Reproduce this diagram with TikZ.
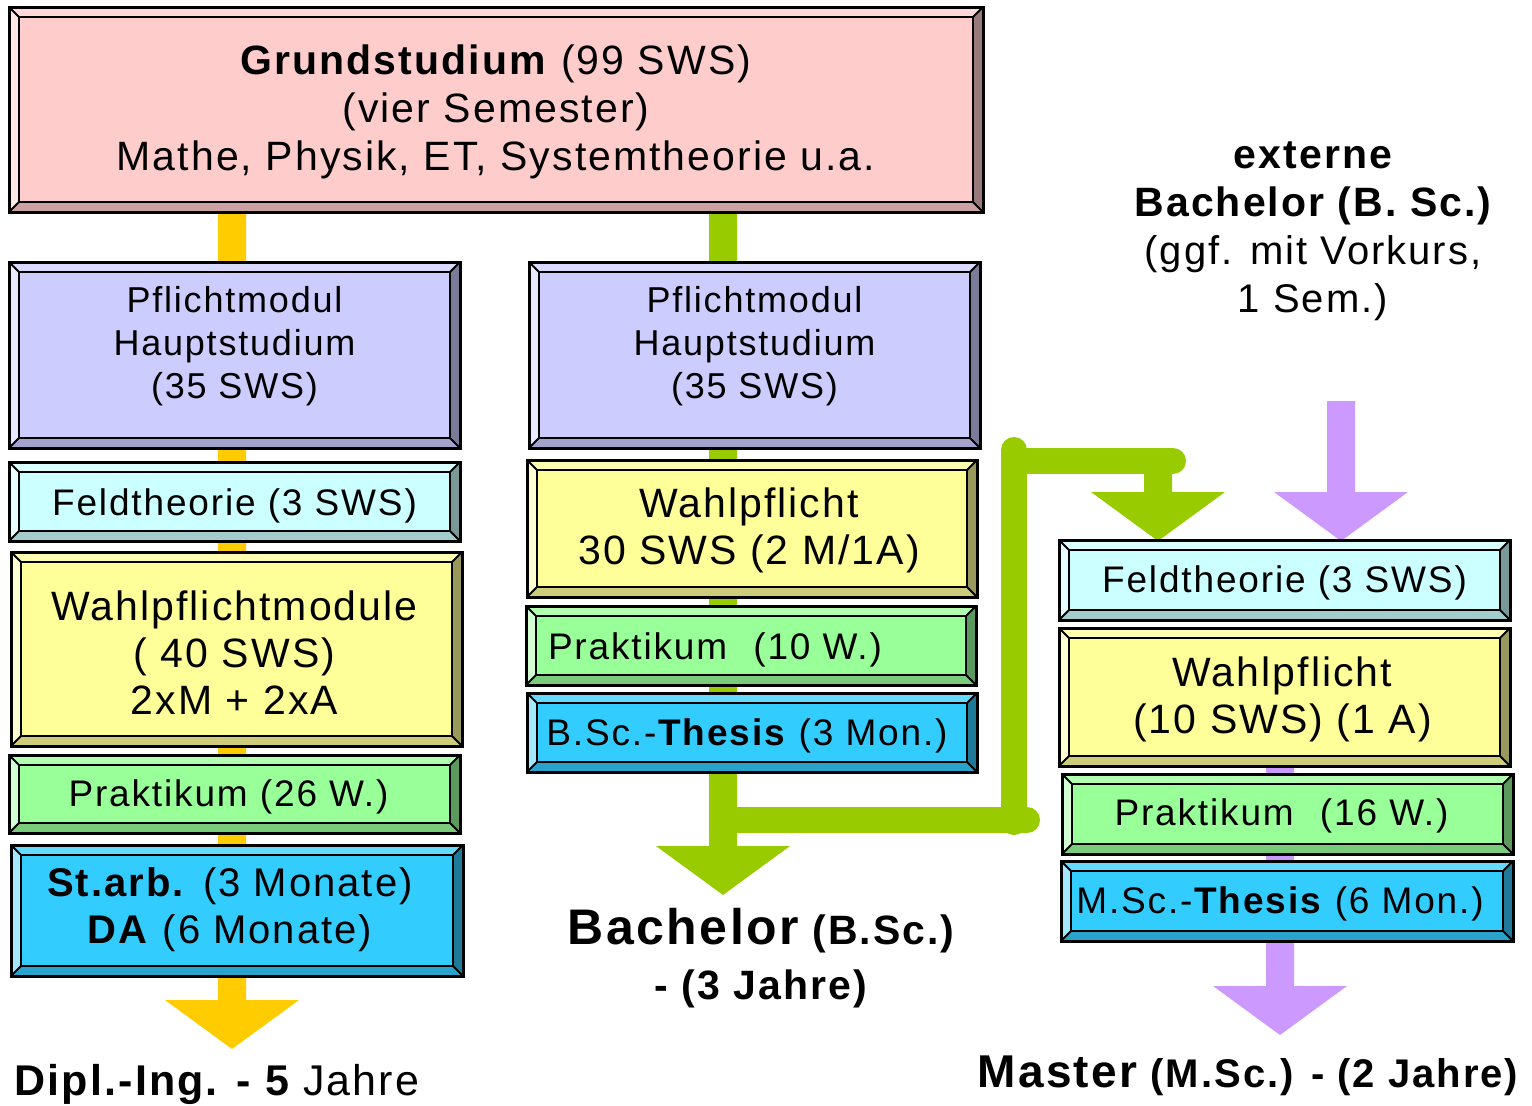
\documentclass[tikz,border=0pt]{standalone}
\usepackage{fontspec}
\setmainfont{Liberation Sans}[LetterSpace=5]
\usetikzlibrary{calc}
\pgfdeclarelayer{background}
\pgfsetlayers{background,main}
\definecolor{cpink}{HTML}{FFCCCC}
\definecolor{cviolet}{HTML}{CCCCFF}
\definecolor{ccyan}{HTML}{CCFFFF}
\definecolor{cyel}{HTML}{FFFF99}
\definecolor{cgreen}{HTML}{99FF99}
\definecolor{cblue}{HTML}{33CCFF}
\definecolor{ayel}{HTML}{FFCC00}
\definecolor{agreen}{HTML}{99CC00}
\definecolor{apurple}{HTML}{CC99FF}
% bevelled box: name, colour, centre x, centre y, width, height
\newcommand\bbox[6]{%
  \node[box=#2, minimum width=#5pt, minimum height=#6pt] (#1) at (#3,#4) {};
  \fill[#2!75!white] (#1.north west) -- (#1.north east) -- ($(#1.north east)+(-10,10)$) -- ($(#1.north west)+(10,10)$) -- cycle;
  \fill[#2!45!white] (#1.north west) -- ($(#1.north west)+(10,10)$) -- ($(#1.south west)+(10,-10)$) -- (#1.south west) -- cycle;
  \fill[#2!80!black] (#1.south west) -- ($(#1.south west)+(10,-10)$) -- ($(#1.south east)+(-10,-10)$) -- (#1.south east) -- cycle;
  \fill[#2!60!black] (#1.north east) -- (#1.south east) -- ($(#1.south east)+(-10,-10)$) -- ($(#1.north east)+(-10,10)$) -- cycle;
  \draw[line width=2pt] (#1.north west) -- ++(10,10) (#1.north east) -- ++(-10,10) (#1.south west) -- ++(10,-10) (#1.south east) -- ++(-10,-10);
  \draw[line width=2.5pt] ($(#1.north west)+(10,10)$) rectangle ($(#1.south east)+(-10,-10)$);
  \draw[line width=3pt] (#1.north west) rectangle (#1.south east);
}
\newcommand\fatdown[3]{%
  \fill[#1] let \p1=(#2), \p2=(#3) in
    (\x2-14pt,\y1) -- (\x2+14pt,\y1) -- (\x2+14pt,\y2+49pt) -- (\x2+67pt,\y2+49pt)
    -- (\x2,\y2) -- (\x2-67pt,\y2+49pt) -- (\x2-14pt,\y2+49pt) -- cycle;}
\begin{document}
\begin{tikzpicture}[x=1pt,y=-1pt,
  box/.style={fill=#1, inner sep=0pt, outer sep=0pt},
  txt/.style={inner sep=0pt, outer sep=0pt, align=center},
  f37/.style={font=\fontsize{37}{47}\selectfont},
  f41/.style={font=\fontsize{41}{47}\selectfont},
  f36/.style={font=\fontsize{36}{43}\selectfont},
  branch/.style={draw=agreen, line width=26pt, line cap=round}]
\useasboundingbox (0,0) rectangle (1532,1106);
\begin{pgfonlayer}{background}
\fill[white] (0,0) rectangle (1532,1106);
\end{pgfonlayer}

% top box
\bbox{grund}{cpink}{496}{109.5}{974}{205}
\node[txt, font=\fontsize{41}{48}\selectfont] (grundt) at ($(grund.center)+(0,2)$)
  {\textbf{Grundstudium} (99 SWS)\\(vier Semester)\\Mathe, Physik, ET, Systemtheorie u.a.};

% left column
\bbox{pfl1}{cviolet}{234.5}{355}{451}{186}
\node[txt, f36] (pfl1t) at ($(pfl1.center)+(0,-9)$) {Pflichtmodul\\Hauptstudium\\(35 SWS)};
\bbox{feld1}{ccyan}{234.5}{501.5}{451}{79}
\node[txt, f37] (feld1t) at ($(feld1.center)+(0,4)$) {Feldtheorie (3 SWS)};
\bbox{wpm1}{cyel}{236.5}{649}{451}{194}
\node[txt, f41] (wpm1t) at ($(wpm1.center)+(-2,4)$) {Wahlpflichtmodule\\( 40 SWS)\\2xM + 2xA};
\bbox{prak1}{cgreen}{234.5}{794}{451}{78}
\node[txt, f37] (prak1t) at ($(prak1.center)+(-6,3)$) {Praktikum (26 W.)};
\bbox{starb}{cblue}{237}{910.5}{452}{131}
\node[txt, font=\fontsize{40}{47}\selectfont] (starbt) at ($(starb.center)+(-7,-1)$) {\textbf{St.arb.} (3 Monate)\\\textbf{DA} (6 Monate)};

% middle column
\bbox{pfl2}{cviolet}{754.5}{355}{451}{186}
\node[txt, f36] (pfl2t) at ($(pfl2.center)+(0,-9)$) {Pflichtmodul\\Hauptstudium\\(35 SWS)};
\bbox{wp2}{cyel}{752}{528.5}{450}{137}
\node[txt, f41] (wp2t) at ($(wp2.center)+(-3,2)$) {Wahlpflicht\\30 SWS (2 M/1A)};
\bbox{prak2}{cgreen}{751}{645.5}{450}{79}
\node[txt, f37, anchor=west] (prak2t) at ($(prak2.west)+(22,4)$) {Praktikum\hspace{14pt} (10 W.)};
\bbox{bsc}{cblue}{752}{732.5}{450}{79}
\node[txt, f37] (bsct) at ($(bsc.center)+(-5,3)$) {B.Sc.-\textbf{Thesis} (3 Mon.)};

% right column
\bbox{feld3}{ccyan}{1284.5}{580}{451}{80}
\node[txt, f37] (feld3t) at ($(feld3.center)+(0,3)$) {Feldtheorie (3 SWS)};
\bbox{wp3}{cyel}{1284.5}{697}{451}{138}
\node[txt, f41] (wp3t) at ($(wp3.center)+(-2,2)$) {Wahlpflicht\\(10 SWS) (1 A)};
\bbox{prak3}{cgreen}{1287.5}{814}{451}{80}
\node[txt, f37] (prak3t) at ($(prak3.center)+(-6,2)$) {Praktikum\hspace{14pt} (16 W.)};
\bbox{msc}{cblue}{1287}{901}{452}{80}
\node[txt, f37] (msct) at ($(msc.center)+(-7,3)$) {M.Sc.-\textbf{Thesis} (6 Mon.)};

% labels
\node[txt, anchor=base, font=\bfseries\fontsize{43}{50}\selectfont] (dipl) at (217,1095) {Dipl.-Ing. - 5 \mdseries Jahre};
\node[txt, font=\bfseries\fontsize{41}{55}\selectfont] (bachlab) at (761,958) {{\fontsize{50}{55}\selectfont Bachelor} (B.Sc.)\\- (3 Jahre)};
\node[txt, font=\fontsize{40}{48}\selectfont] (extern) at (1313,231) {{\fontsize{41}{48}\selectfont\bfseries externe}\\{\fontsize{41}{48}\selectfont\bfseries Bachelor (B. Sc.)}\\(ggf. mit Vorkurs,\\1 Sem.)};
\node[txt, anchor=base, font=\bfseries\fontsize{40}{48}\selectfont] (master) at (1248,1087) {{\fontsize{46}{48}\selectfont Master} (M.Sc.) - (2 Jahre)};

% connector coordinates
\coordinate (ytip) at (232,1049);
\coordinate (gx) at (723,212);
\coordinate (gtip) at (723,895);
\coordinate (gj1) at (723,820);
\coordinate (gj2) at (1027,820);
\coordinate (gv1) at (1014,822);
\coordinate (gv2) at (1014,450);
\coordinate (gh1) at (1014,461);
\coordinate (gh2) at (1173,461);
\coordinate (g2top) at (1158,461);
\coordinate (g2tip) at (1158,541);
\coordinate (ptop) at (1341,401);
\coordinate (ptip) at (1341,541);
\coordinate (mtip) at (1280,1035);

\begin{pgfonlayer}{background}
\fatdown{ayel}{ytip |- grund.south}{ytip}
\fatdown{agreen}{gx}{gtip}
\path[branch] (gj1) -- (gj2);
\path[branch] (gv1) -- (gv2);
\path[branch] (gh1) -- (gh2);
\fatdown{agreen}{g2top}{g2tip}
\fatdown{apurple}{ptop}{ptip}
\fatdown{apurple}{mtip |- wp3.center}{mtip}
\end{pgfonlayer}
\end{tikzpicture}
\end{document}
